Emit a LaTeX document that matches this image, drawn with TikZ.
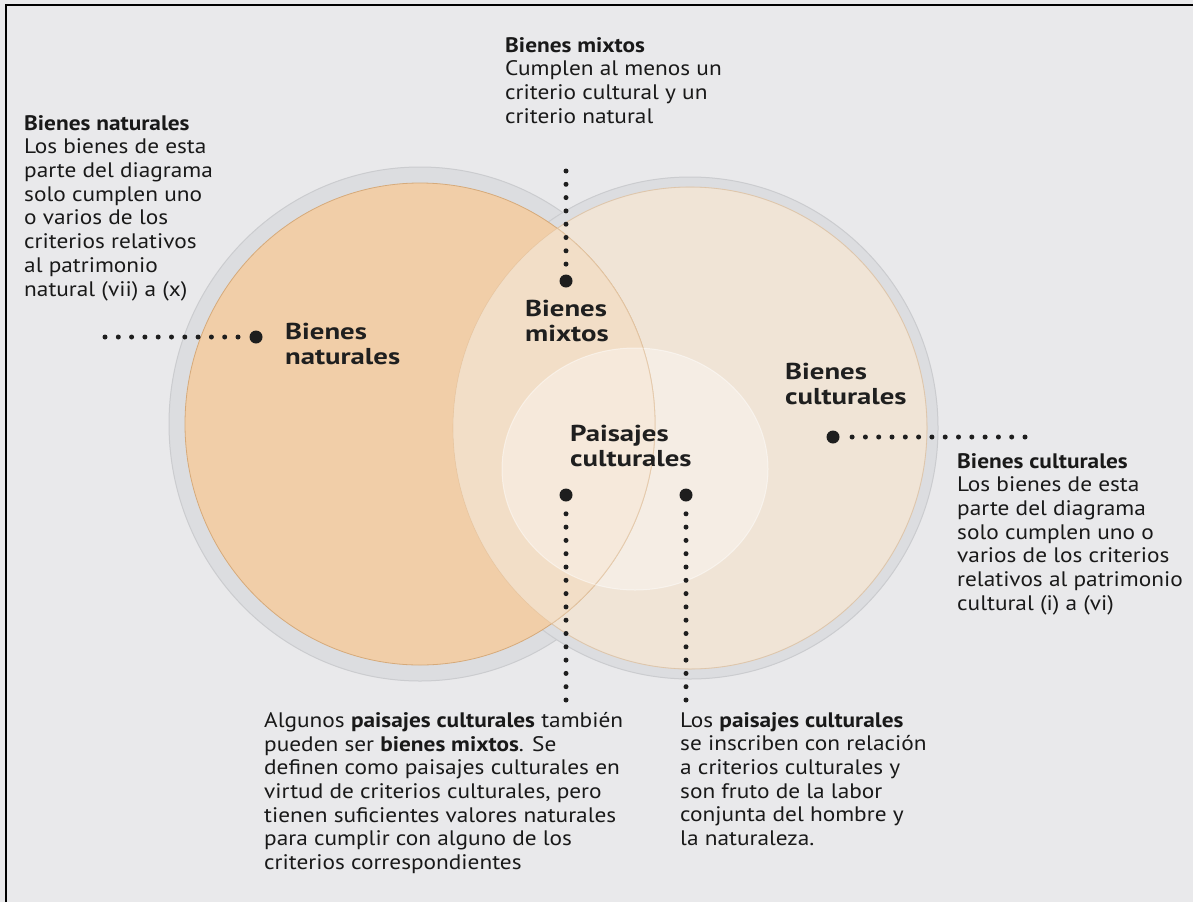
\documentclass[tikz,border=0pt]{standalone}
\usepackage{fontspec}
\setmainfont{PT Sans}[FakeStretch=1.11]
\newfontfamily\labelfont{PT Sans}[FakeStretch=1.25]
\definecolor{bg}{HTML}{E9E9EB}
\definecolor{halo}{HTML}{DCDDE0}
\definecolor{haloedge}{HTML}{CBCCCF}
\definecolor{natfill}{HTML}{F1CEA8}
\definecolor{natedge}{HTML}{D6AA7A}
\definecolor{lensfill}{HTML}{F2DEC7}
\definecolor{culfill}{HTML}{F0E4D6}
\definecolor{culedge}{HTML}{E2D3C2}
\definecolor{dotcol}{HTML}{1E1E1E}
\begin{document}
\begin{tikzpicture}[x=1pt,y=-1pt,
  bodytext/.style={anchor=north west,inner sep=0pt,align=left,
    font=\fontsize{21}{23.7}\selectfont,text=black!90},
  circlabel/.style={anchor=north west,inner sep=0pt,align=left,
    font=\labelfont\fontsize{23}{24.5}\selectfont\bfseries,text=black!88},
  bigdot/.style={circle,fill=dotcol,inner sep=0pt,minimum size=13pt},
  dotline/.style={line width=5pt,line cap=round,dash pattern=on 0pt off 13.3pt,draw=dotcol}]
\useasboundingbox (0,0) rectangle (1193,902);
\fill[bg] (0,0) rectangle (1193,902);
% frame
\draw[line width=2.5pt,black] (6,902) -- (6,5) -- (1193,5);
% halos
\fill[halo,draw=haloedge,line width=1pt] (420,424) ellipse [x radius=251pt, y radius=257pt];
\fill[halo,draw=haloedge,line width=1pt] (690,428) ellipse [x radius=248pt, y radius=251pt];
% cultural
\fill[culfill,draw=culedge,line width=1pt] (690,428) ellipse [x radius=237pt, y radius=241pt];
% natural
\fill[natfill,draw=natedge,line width=0.8pt] (420,424) ellipse [x radius=235pt, y radius=241pt];
% lens
\begin{scope}
  \clip (690,428) ellipse [x radius=237pt, y radius=241pt];
  \fill[lensfill] (420,424) ellipse [x radius=235pt, y radius=241pt];
  \draw[natedge!70,line width=0.8pt] (420,424) ellipse [x radius=235pt, y radius=241pt];
\end{scope}
\draw[natedge,line width=0.6pt,opacity=0.35] (690,428) ellipse [x radius=237pt, y radius=241pt];
% paisajes
\fill[white,opacity=0.36] (635,469) ellipse [x radius=133pt, y radius=121pt];
\draw[white,opacity=0.45,line width=1pt] (635,469) ellipse [x radius=133pt, y radius=121pt];
\begin{scope}
  \clip (635,469) ellipse [x radius=133pt, y radius=121pt];
  \draw[natedge,opacity=0.3,line width=0.8pt] (420,424) ellipse [x radius=235pt, y radius=241pt];
\end{scope}
% circle labels
\node[circlabel] (lnat) at (285,323) {Bienes\\naturales};
\node[circlabel] (lmix) at (525,300) {Bienes\\mixtos};
\node[circlabel] (lcul) at (785,363) {Bienes\\culturales};
\node[circlabel] (lpai) at (570,425) {Paisajes\\culturales};
% dots and dotted leaders
\node[bigdot] (dnat) at (256,337) {};
\coordinate (enat) at (105,337);
\draw[dotline] (enat) -- (dnat);
\node[bigdot] (dmix) at (566,281) {};
\coordinate (emix) at (566,171);
\draw[dotline] (emix) -- (dmix);
\node[bigdot] (dcul) at (833,437) {};
\coordinate (ecul) at (1025,437);
\draw[dotline] (ecul) -- (dcul);
\node[bigdot] (dpa) at (566,495) {};
\coordinate (epa) at (566,700);
\draw[dotline] (epa) -- (dpa);
\node[bigdot] (dpb) at (686,495) {};
\coordinate (epb) at (686,700);
\draw[dotline] (epb) -- (dpb);
% text blocks
\node[bodytext] (tnat) at (24,115) {\textbf{Bienes naturales}\\Los bienes de esta\\parte del diagrama\\solo cumplen uno\\o varios de los\\criterios relativos\\al patrimonio\\natural (vii) a (x)};
\node[bodytext] (tmix) at (505,37) {\textbf{Bienes mixtos}\\Cumplen al menos un\\criterio cultural y un\\criterio natural};
\node[bodytext] (tcul) at (957,453) {\textbf{Bienes culturales}\\Los bienes de esta\\parte del diagrama\\solo cumplen uno o\\varios de los criterios\\relativos al patrimonio\\cultural (i) a (vi)};
\node[bodytext] (tpa) at (264,712) {Algunos \textbf{paisajes culturales} también\\pueden ser \textbf{bienes mixtos}. Se\\definen como paisajes culturales en\\virtud de criterios culturales, pero\\tienen suficientes valores naturales\\para cumplir con alguno de los\\criterios correspondientes};
\node[bodytext] (tpb) at (680,712) {Los \textbf{paisajes culturales}\\se inscriben con relación\\a criterios culturales y\\son fruto de la labor\\conjunta del hombre y\\la naturaleza.};
\end{tikzpicture}
\end{document}
